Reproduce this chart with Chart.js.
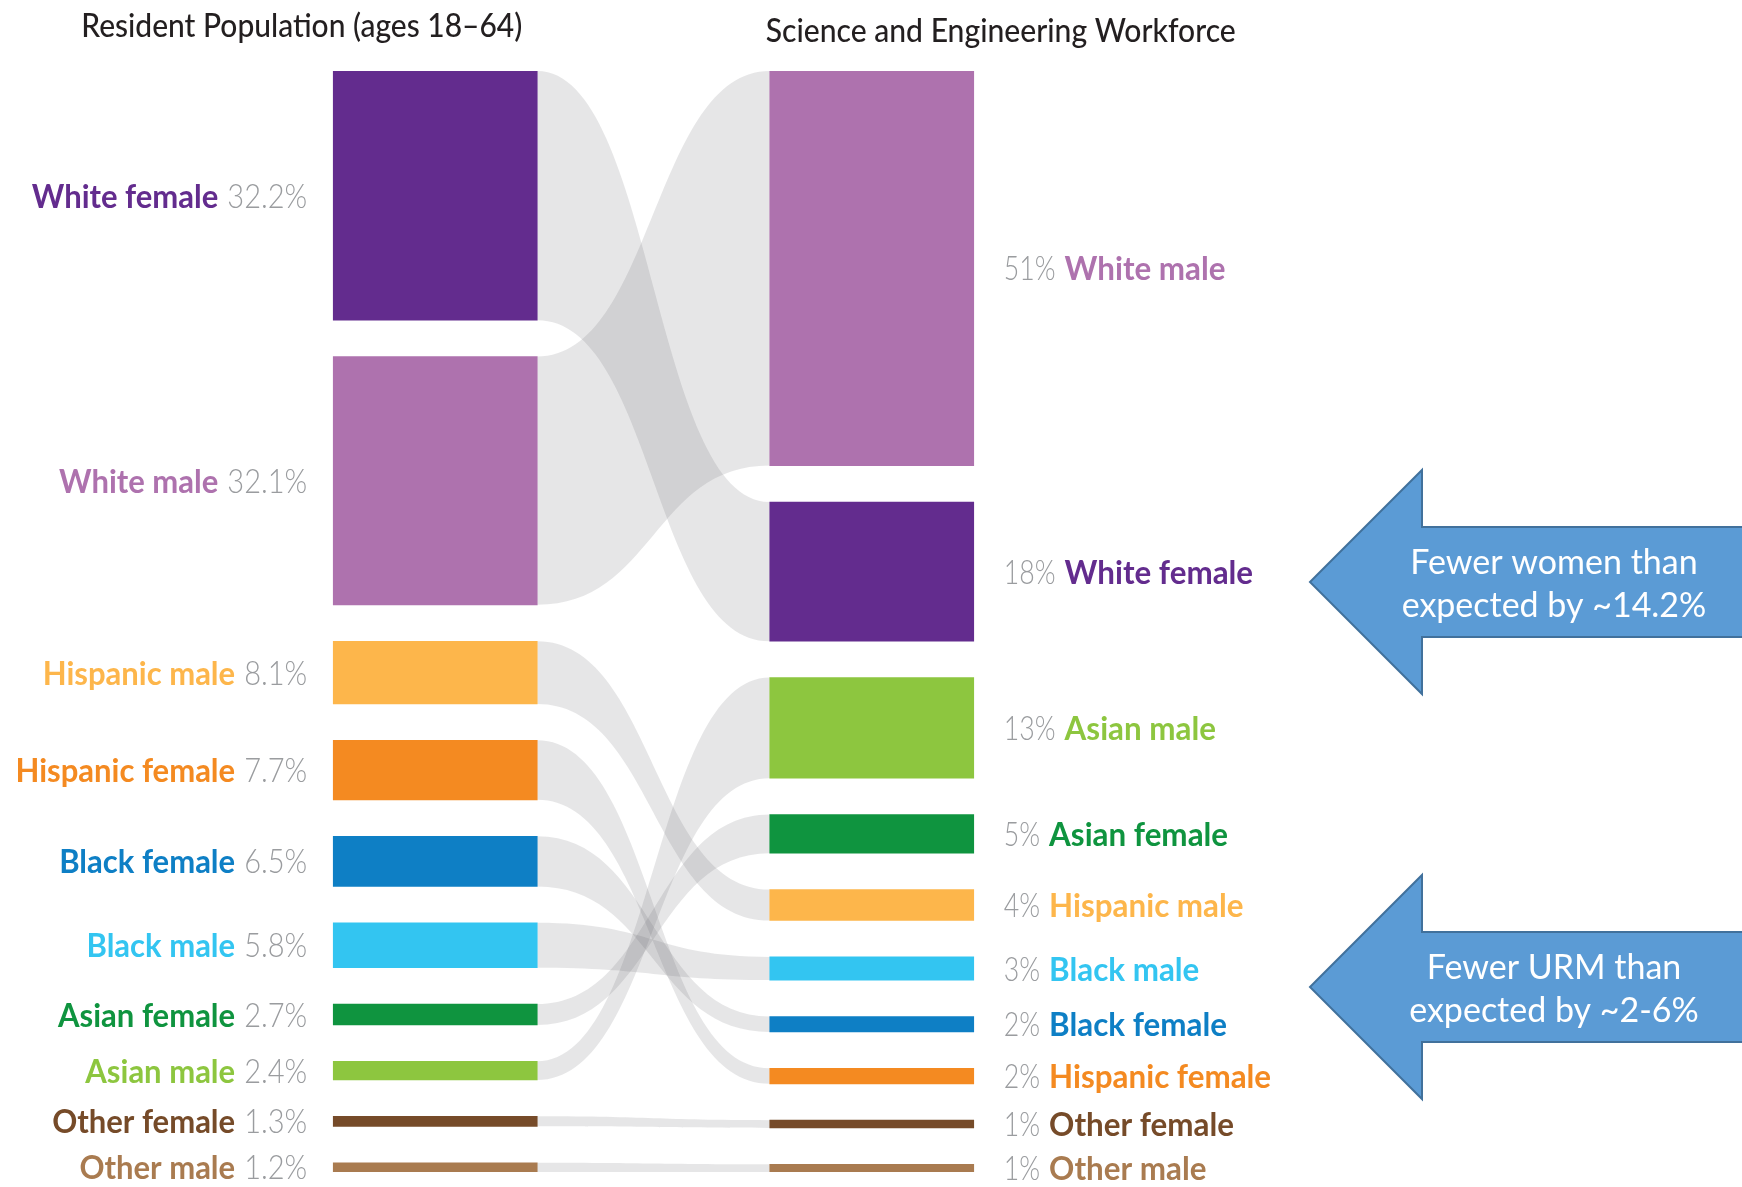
<!DOCTYPE html>
<html lang="en">
<head>
<meta charset="UTF-8">
<title>Resident Population vs Science and Engineering Workforce</title>
<script src="https://cdn.jsdelivr.net/npm/chart.js"></script>
<style>
  html, body { margin: 0; padding: 0; background: #fff; }
</style>
</head>
<body>
<canvas id="flowChart" width="1742" height="1187"></canvas>
<script>
// groups in the order of the left column
const groups = ['White female', 'White male', 'Hispanic male', 'Hispanic female', 'Black female',
                'Black male', 'Asian female', 'Asian male', 'Other female', 'Other male'];
const residentPct  = [32.2, 32.1, 8.1, 7.7, 6.5, 5.8, 2.7, 2.4, 1.3, 1.2];
const workforcePct = [18, 51, 4, 2, 2, 3, 5, 13, 1, 1];
// order of the right column, top to bottom
const workforceOrder = ['White male', 'White female', 'Asian male', 'Asian female', 'Hispanic male',
                        'Black male', 'Black female', 'Hispanic female', 'Other female', 'Other male'];
const columnTitles = ['Resident Population (ages 18\u201364)', 'Science and Engineering Workforce'];
const callouts = [
  ['Fewer women than', 'expected by ~14.2%'],
  ['Fewer URM than', 'expected by ~2-6%']
];

const groupColors = ['#632c8e', '#ae72ae', '#fdb64b', '#f48a21', '#0e7fc5',
                     '#33c5f1', '#0f943f', '#8dc63f', '#764b29', '#a97b50'];

const GAP = 4.7;          // space between blocks, in percent units
const CURVE = 0.5;        // bezier control offset for the ribbons
const FONT = 'Lato, "Open Sans", sans-serif';

// stack a column top-down, leaving GAP between blocks
function stackColumn(order, values) {
  const ranges = [];
  let pos = 0;
  order.forEach(i => {
    ranges[i] = [pos, pos + values[i]];
    pos += values[i] + GAP;
  });
  return { ranges, total: pos - GAP };
}
const left = stackColumn(groups.map((g, i) => i), residentPct);
const right = stackColumn(workforceOrder.map(n => groups.indexOf(n)), workforcePct);
const yMax = Math.max(left.total, right.total);

// text squeezed horizontally by sx, returns drawn width
function squeezedText(ctx, text, x, y, sx, align) {
  const w = ctx.measureText(text).width * sx;
  ctx.save();
  ctx.translate(align === 'right' ? x - w : x, y);
  ctx.scale(sx, 1);
  ctx.textAlign = 'left';
  ctx.fillText(text, 0, 0);
  ctx.restore();
  return w;
}

// grey ribbons linking each group's two blocks
const ribbons = {
  id: 'ribbons',
  beforeDatasetsDraw(chart) {
    const ctx = chart.ctx, y = chart.scales.y;
    ctx.save();
    ctx.fillStyle = 'rgba(100,100,108,0.16)';
    groups.forEach((g, i) => {
      const bars = chart.getDatasetMeta(i).data;
      const x0 = bars[0].x + bars[0].width / 2;
      const x1 = bars[1].x - bars[1].width / 2;
      const c0 = x0 + (x1 - x0) * CURVE, c1 = x1 - (x1 - x0) * CURVE;
      const lt = y.getPixelForValue(left.ranges[i][0]), lb = y.getPixelForValue(left.ranges[i][1]);
      const rt = y.getPixelForValue(right.ranges[i][0]), rb = y.getPixelForValue(right.ranges[i][1]);
      ctx.beginPath();
      ctx.moveTo(x0, lt);
      ctx.bezierCurveTo(c0, lt, c1, rt, x1, rt);
      ctx.lineTo(x1, rb);
      ctx.bezierCurveTo(c1, rb, c0, lb, x0, lb);
      ctx.closePath();
      ctx.fill();
    });
    ctx.restore();
  }
};

// group names and percentages beside the blocks, plus column titles
const blockLabels = {
  id: 'blockLabels',
  afterDatasetsDraw(chart) {
    const ctx = chart.ctx, y = chart.scales.y;
    const nameFont = 'bold 33px ' + FONT;
    const valFont = '300 33px ' + FONT;
    const grey = '#9a9c9f';
    ctx.save();
    ctx.textBaseline = 'alphabetic';
    groups.forEach((g, i) => {
      const bars = chart.getDatasetMeta(i).data;
      // left column: "Name 32.2%"
      let mid = (y.getPixelForValue(left.ranges[i][0]) + y.getPixelForValue(left.ranges[i][1])) / 2;
      const xr = bars[0].x - bars[0].width / 2 - 26;
      ctx.font = valFont;
      ctx.fillStyle = grey;
      const lw = squeezedText(ctx, residentPct[i].toFixed(1) + '%', xr, mid + 12, 0.88, 'right');
      ctx.font = nameFont;
      ctx.fillStyle = groupColors[i];
      squeezedText(ctx, g, xr - lw - 9, mid + 12, 0.94, 'right');

      // right column: "51% Name"
      mid = (y.getPixelForValue(right.ranges[i][0]) + y.getPixelForValue(right.ranges[i][1])) / 2;
      const xl = bars[1].x + bars[1].width / 2 + 30;
      ctx.font = valFont;
      ctx.fillStyle = grey;
      const rw = squeezedText(ctx, workforcePct[i] + '%', xl, mid + 12, 0.81, 'left');
      ctx.font = nameFont;
      ctx.fillStyle = groupColors[i];
      squeezedText(ctx, g, xl + rw + 9, mid + 12, 0.95, 'left');
    });

    // column titles, fitted to their widths
    const meta = chart.getDatasetMeta(0).data;
    ctx.font = '500 32px ' + FONT;
    ctx.fillStyle = '#231f20';
    const t0 = columnTitles[0], t1 = columnTitles[1];
    squeezedText(ctx, t0, meta[0].x + meta[0].width / 2 - 15, 37, 441 / ctx.measureText(t0).width, 'right');
    squeezedText(ctx, t1, meta[1].x - meta[1].width / 2 - 4, 42, 470 / ctx.measureText(t1).width, 'left');
    ctx.restore();
  }
};

// blue arrow callouts on the right
const calloutArrows = {
  id: 'calloutArrows',
  afterDraw(chart) {
    const ctx = chart.ctx;
    const tips = [582, 987];
    ctx.save();
    callouts.forEach((lines, k) => {
      const tx = 1310, ty = tips[k], hx = 1422;
      ctx.beginPath();
      ctx.moveTo(tx, ty);
      ctx.lineTo(hx, ty - 112);
      ctx.lineTo(hx, ty - 55);
      ctx.lineTo(1760, ty - 55);
      ctx.lineTo(1760, ty + 55);
      ctx.lineTo(hx, ty + 55);
      ctx.lineTo(hx, ty + 112);
      ctx.closePath();
      ctx.fillStyle = '#5b9bd5';
      ctx.fill();
      ctx.lineWidth = 2;
      ctx.strokeStyle = '#41719c';
      ctx.stroke();
      ctx.fillStyle = '#ffffff';
      ctx.font = '34px ' + FONT;
      ctx.textAlign = 'center';
      ctx.textBaseline = 'middle';
      ctx.fillText(lines[0], 1554, ty - 19, 300);
      ctx.fillText(lines[1], 1554, ty + 24, 310);
    });
    ctx.restore();
  }
};

new Chart(document.getElementById('flowChart'), {
  type: 'bar',
  data: {
    labels: columnTitles,
    datasets: groups.map((g, i) => ({
      label: g,
      data: [left.ranges[i], right.ranges[i]],
      backgroundColor: groupColors[i],
      borderWidth: 0,
      barThickness: 204,
      grouped: false
    }))
  },
  options: {
    responsive: false,
    animation: false,
    layout: { padding: { left: 217, right: 652, top: 71, bottom: 15 } },
    plugins: { legend: { display: false }, tooltip: { enabled: false } },
    scales: {
      x: { display: false },
      y: { display: false, reverse: true, min: 0, max: yMax }
    }
  },
  plugins: [ribbons, blockLabels, calloutArrows]
});
</script>
</body>
</html>
